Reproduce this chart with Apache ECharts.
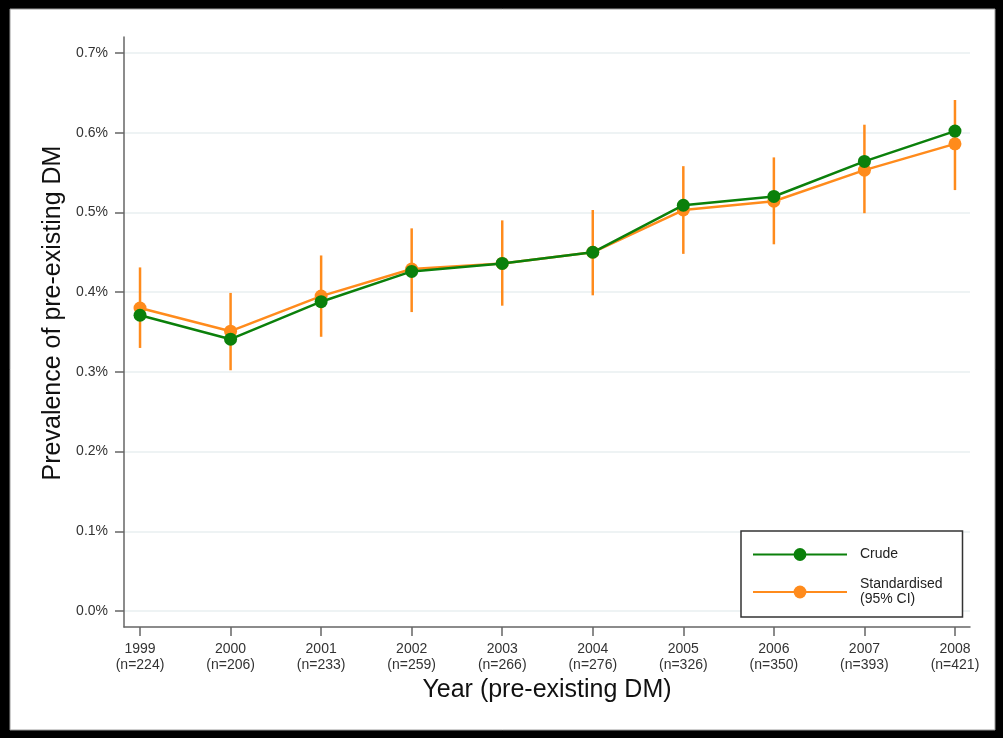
<!DOCTYPE html>
<html>
<head>
<meta charset="utf-8">
<script type="text/javascript" src="https://cdn.jsdelivr.net/npm/echarts@6/dist/echarts.min.js"></script>
<style>
    html, body { margin: 0; padding: 0; background: #000; }
    #chart { width: 1003px; height: 738px; }
</style>
</head>
<body>
<div id="chart"></div>
<script type="text/javascript">
    // data (prevalence in %)
    var years = [1999, 2000, 2001, 2002, 2003, 2004, 2005, 2006, 2007, 2008];
    var counts = [224, 206, 233, 259, 266, 276, 326, 350, 393, 421];
    var crude = [0.371, 0.341, 0.388, 0.426, 0.436, 0.450, 0.509, 0.520, 0.564, 0.602];
    var standardised = [0.380, 0.351, 0.395, 0.429, 0.436, 0.450, 0.503, 0.514, 0.553, 0.586];
    var ciLow = [0.330, 0.302, 0.344, 0.375, 0.383, 0.396, 0.448, 0.460, 0.499, 0.528];
    var ciHigh = [0.431, 0.399, 0.446, 0.480, 0.490, 0.503, 0.558, 0.569, 0.610, 0.641];
    var yTicks = [0, 0.1, 0.2, 0.3, 0.4, 0.5, 0.6, 0.7];

    var green = '#0b800b';
    var orange = '#ff8b1c';
    var font = 'Arial, "Liberation Sans", sans-serif';

    var crudeData = years.map(function (y, i) { return [y, crude[i]]; });
    var stdData = years.map(function (y, i) { return [y, standardised[i]]; });
    var ciData = years.map(function (y, i) { return [y, ciLow[i], ciHigh[i]]; });

    var chart = echarts.init(document.getElementById('chart'));
    var option = {
        backgroundColor: '#000',
        animation: false,
        textStyle: { fontFamily: font },
        graphic: [{
            type: 'rect',
            z: -100,
            silent: true,
            shape: { x: 10, y: 9, width: 985, height: 721 },
            style: { fill: '#fff', stroke: '#9a9a9a', lineWidth: 1 }
        }],
        grid: { left: 124, right: 33, top: 37, bottom: 111 },
        legend: {
            orient: 'vertical',
            left: 741,
            top: 531,
            padding: [16, 20, 10, 11],
            itemGap: 15,
            itemWidth: 94,
            itemHeight: 16,
            backgroundColor: '#fff',
            borderColor: '#333',
            borderWidth: 1.5,
            borderRadius: 0,
            data: ['Crude', 'Standardised'],
            formatter: function (name) {
                return name === 'Standardised' ? 'Standardised\n(95% CI)' : name;
            },
            textStyle: { fontSize: 14, color: '#222', lineHeight: 15, padding: [0, 0, 0, 8] }
        },
        xAxis: {
            type: 'value',
            min: 1998.823,
            max: 2008.166,
            name: 'Year (pre-existing DM)',
            nameLocation: 'middle',
            nameGap: 47,
            nameTextStyle: { fontSize: 25, color: '#111' },
            axisLine: { show: true, onZero: false, lineStyle: { color: '#666', width: 1.5 } },
            axisTick: { show: true, length: 9, customValues: years, lineStyle: { color: '#666', width: 1.5 } },
            axisLabel: {
                customValues: years,
                margin: 14,
                fontSize: 14,
                lineHeight: 16,
                color: '#333',
                formatter: function (v) {
                    var i = years.indexOf(Math.round(v));
                    return v + '\n(n=' + counts[i] + ')';
                }
            },
            splitLine: { show: false }
        },
        yAxis: {
            type: 'value',
            min: -0.02,
            max: 0.72,
            name: 'Prevalence of pre-existing DM',
            nameLocation: 'middle',
            nameGap: 58,
            nameTextStyle: { fontSize: 25, color: '#111', padding: [0, 0, 0, 38] },
            axisLine: { show: true, onZero: false, lineStyle: { color: '#666', width: 1.5 } },
            axisTick: { show: true, length: 9, customValues: yTicks, lineStyle: { color: '#666', width: 1.5 } },
            axisLabel: {
                customValues: yTicks,
                margin: 16,
                fontSize: 14,
                color: '#333',
                formatter: function (v) { return v.toFixed(1) + '%'; }
            },
            splitLine: { show: true, lineStyle: { color: '#e8eff1', width: 1.5 } }
        },
        series: [
            {
                name: 'CI',
                type: 'custom',
                z: 1,
                data: ciData,
                renderItem: function (params, api) {
                    var p1 = api.coord([api.value(0), api.value(1)]);
                    var p2 = api.coord([api.value(0), api.value(2)]);
                    return {
                        type: 'line',
                        shape: { x1: p1[0], y1: p1[1], x2: p2[0], y2: p2[1] },
                        style: { stroke: orange, lineWidth: 2.5 }
                    };
                }
            },
            {
                name: 'Standardised',
                type: 'line',
                z: 2,
                data: stdData,
                symbol: 'circle',
                symbolSize: 13,
                itemStyle: { color: orange },
                lineStyle: { color: orange, width: 2.5 }
            },
            {
                name: 'Crude',
                type: 'line',
                z: 3,
                data: crudeData,
                symbol: 'circle',
                symbolSize: 13,
                itemStyle: { color: green },
                lineStyle: { color: green, width: 2.5 }
            }
        ]
    };
    chart.setOption(option);
</script>
</body>
</html>
